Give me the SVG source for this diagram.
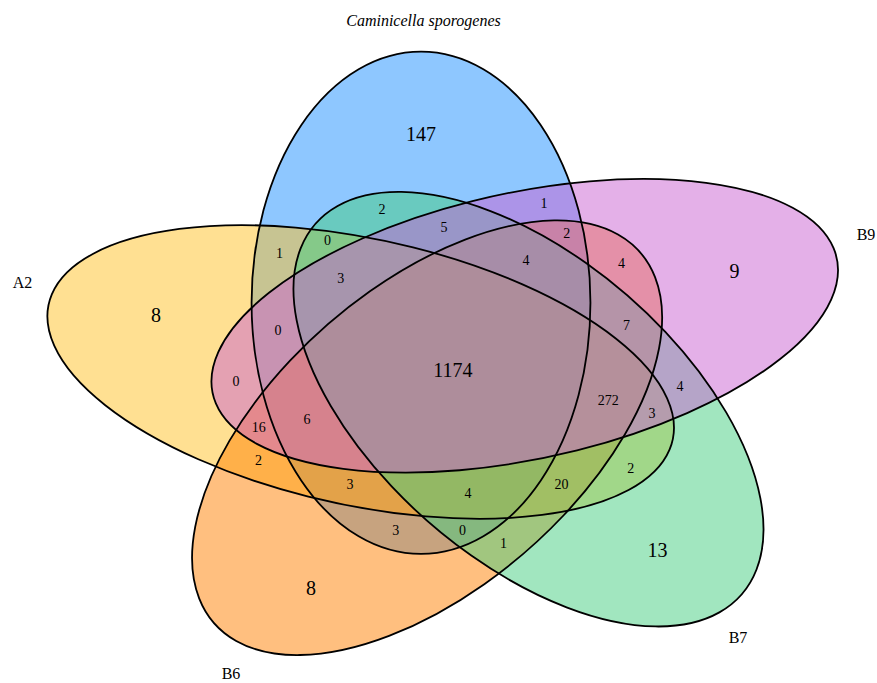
<svg xmlns="http://www.w3.org/2000/svg" width="877" height="683" viewBox="0 0 877 683">
<style>
.f{fill-opacity:0.5;stroke:none}
.o{fill:none;stroke:#000;stroke-width:1.8px;vector-effect:non-scaling-stroke}
text{font-family:"Liberation Serif","Times New Roman",serif;fill:#000;text-anchor:middle}
.s{font-size:14px}
.b{font-size:20px}
.l{font-size:16px}
.t{font-size:16px;font-style:italic}
</style>
<rect width="877" height="683" fill="#ffffff"/>
<g id="sets" transform="translate(452.4,369.5) scale(706,546)">
  <g id="fills">
    <ellipse id="set-caminicella" class="f" fill="#1E90FF" cx="-0.044463" cy="-0.122160" rx="0.24" ry="0.46"/>
    <ellipse id="set-A2" class="f" fill="#FFC125" cx="-0.129921" cy="0.004537" rx="0.24" ry="0.46" transform="rotate(288 -0.129921 0.004537)"/>
    <ellipse id="set-B6" class="f" fill="#FF7F00" cx="-0.035833" cy="0.124964" rx="0.24" ry="0.46" transform="rotate(216 -0.035833 0.124964)"/>
    <ellipse id="set-B7" class="f" fill="#43CD80" cx="0.107775" cy="0.072695" rx="0.24" ry="0.46" transform="rotate(144 0.107775 0.072695)"/>
    <ellipse id="set-B9" class="f" fill="#CA62D2" cx="0.102442" cy="-0.080036" rx="0.24" ry="0.46" transform="rotate(72 0.102442 -0.080036)"/>
  </g>
  <g id="outlines">
    <ellipse class="o" cx="-0.044463" cy="-0.122160" rx="0.24" ry="0.46"/>
    <ellipse class="o" cx="0.102442" cy="-0.080036" rx="0.24" ry="0.46" transform="rotate(72 0.102442 -0.080036)"/>
    <ellipse class="o" cx="0.107775" cy="0.072695" rx="0.24" ry="0.46" transform="rotate(144 0.107775 0.072695)"/>
    <ellipse class="o" cx="-0.035833" cy="0.124964" rx="0.24" ry="0.46" transform="rotate(216 -0.035833 0.124964)"/>
    <ellipse class="o" cx="-0.129921" cy="0.004537" rx="0.24" ry="0.46" transform="rotate(288 -0.129921 0.004537)"/>
  </g>
</g>
<g id="set-labels">
  <text class="t" x="423.5" y="26">Caminicella sporogenes</text>
  <text class="l" x="22.5" y="288">A2</text>
  <text class="l" x="866" y="240">B9</text>
  <text class="l" x="738" y="643">B7</text>
  <text class="l" x="231" y="679">B6</text>
</g>
<g id="counts-large">
  <text class="b" x="421" y="141">147</text>
  <text class="b" x="156" y="322">8</text>
  <text class="b" x="734.5" y="278">9</text>
  <text class="b" x="657.5" y="556.5">13</text>
  <text class="b" x="311" y="595">8</text>
  <text class="b" x="453" y="376.5">1174</text>
</g>
<g id="counts-small">
  <text class="s" x="382" y="213.5">2</text>
  <text class="s" x="544" y="208">1</text>
  <text class="s" x="444" y="232.3">5</text>
  <text class="s" x="327.5" y="244.5">0</text>
  <text class="s" x="566.7" y="238">2</text>
  <text class="s" x="279.5" y="257.5">1</text>
  <text class="s" x="526" y="264.8">4</text>
  <text class="s" x="621.5" y="268">4</text>
  <text class="s" x="340.7" y="282.8">3</text>
  <text class="s" x="278" y="334.7">0</text>
  <text class="s" x="626.5" y="329.5">7</text>
  <text class="s" x="236" y="385.5">0</text>
  <text class="s" x="680" y="390.7">4</text>
  <text class="s" x="608.3" y="404.6">272</text>
  <text class="s" x="258.8" y="432">16</text>
  <text class="s" x="307" y="423.8">6</text>
  <text class="s" x="652" y="417.6">3</text>
  <text class="s" x="258.6" y="465.4">2</text>
  <text class="s" x="630.8" y="472.5">2</text>
  <text class="s" x="350" y="488.6">3</text>
  <text class="s" x="468" y="498.2">4</text>
  <text class="s" x="561.6" y="488.8">20</text>
  <text class="s" x="395.7" y="535.4">3</text>
  <text class="s" x="462.6" y="535.2">0</text>
  <text class="s" x="503.4" y="548.2">1</text>
</g>
</svg>
